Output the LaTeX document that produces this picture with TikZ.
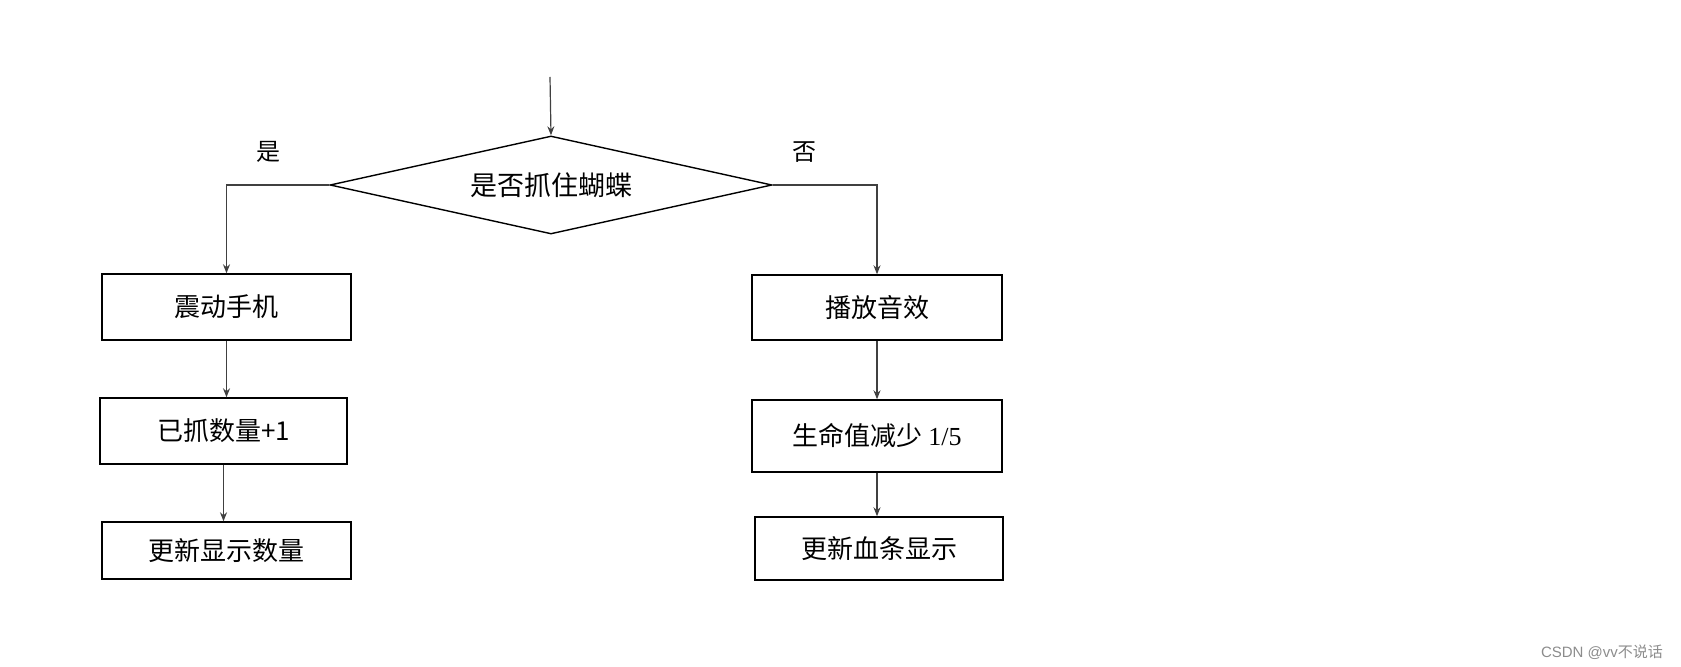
\documentclass[tikz,border=0pt]{standalone}
\usepackage{fontspec}
\usepackage{tikz}
\usetikzlibrary{arrows.meta, positioning, shapes.geometric}
\newfontfamily\cjk{Noto Sans CJK SC}
\newfontfamily\tnr{Liberation Serif}
\newfontfamily\wmfont{Liberation Sans}

\tikzset{
    procbox/.style={rectangle, draw, line width=0.7pt, inner sep=0pt, font=\cjk\fontsize{13pt}{15pt}\selectfont},
    decbox/.style={diamond, draw, line width=0.7pt, inner sep=0pt, aspect=4.5, font=\cjk\fontsize{13.5pt}{15pt}\selectfont},
    flow/.style={-{Stealth[length=4.5pt, width=3.5pt]}, line width=0.6pt, black!75},
    branchlbl/.style={font=\cjk\fontsize{12pt}{14pt}\selectfont}
}

\begin{document}
\begin{tikzpicture}[x=0.5pt, y=-0.5pt]
    \useasboundingbox (0, 0) rectangle (1681, 667);

    \coordinate (start) at (550, 77);
    \node[decbox, minimum width=221pt, minimum height=49pt] (catch) at (551, 185) {是否抓住蝴蝶};

    % 左侧分支
    \node[procbox, minimum width=124.5pt, minimum height=33pt] (vibrate) at (226.5, 307) {震动手机};
    \node[procbox, minimum width=123.5pt, minimum height=33pt] (count) at (223.5, 431) {已抓数量+1};
    \node[procbox, minimum width=124.5pt, minimum height=28.5pt] (showcnt) at (226.5, 550.5) {更新显示数量};

    % 右侧分支
    \node[procbox, minimum width=125pt, minimum height=32.5pt] (sound) at (877, 307.5) {播放音效};
    \node[procbox, minimum width=125pt, minimum height=36pt] (life) at (877, 436) {生命值减少 {\tnr 1/5}};
    \node[procbox, minimum width=124pt, minimum height=31.5pt] (bar) at (879, 548.5) {更新血条显示};

    \node[branchlbl] (yes) at (268, 152) {是};
    \node[branchlbl] (no) at (804, 152) {否};

    \draw[flow] (start) -- (catch.north);
    \draw[flow] (catch.west) -| (vibrate.north);
    \draw[flow] (catch.east) -| (sound.north);
    \draw[flow] (vibrate) -- (vibrate |- count.north);
    \draw[flow] (count) -- (count |- showcnt.north);
    \draw[flow] (sound) -- (sound |- life.north);
    \draw[flow] (life) -- (life |- bar.north);

    \node[text=black!45, font=\wmfont\fontsize{7.5pt}{9pt}\selectfont] (mark) at (1602, 652) {CSDN @vv{\cjk 不说话}};
\end{tikzpicture}
\end{document}
